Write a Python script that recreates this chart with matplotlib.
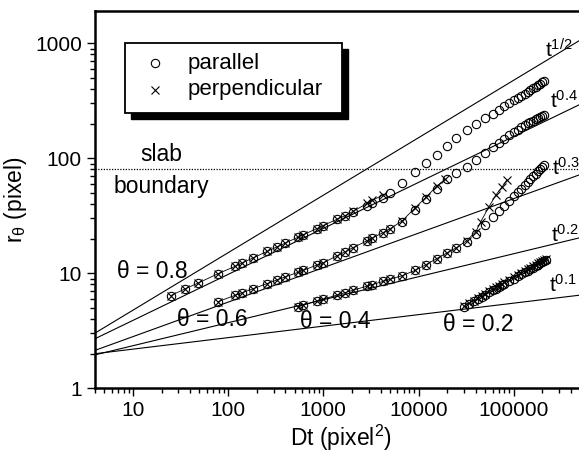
import matplotlib
matplotlib.use('Agg')
import matplotlib.pyplot as plt
import matplotlib.ticker as ticker
from matplotlib.patches import Rectangle
from matplotlib.lines import Line2D
import numpy as np

plt.rcParams['font.family'] = ['Liberation Sans', 'DejaVu Sans']
plt.rcParams['mathtext.fontset'] = 'custom'
plt.rcParams['mathtext.rm'] = 'Liberation Sans'
plt.rcParams['mathtext.it'] = 'Liberation Sans'

# theta = 0.8
dt_08_par = [25, 35, 48, 78, 118, 140, 183, 256, 327, 397, 542, 612, 859, 993, 1390, 1690, 2050,
             2880, 3250, 4240, 5000, 6700, 9200, 12000, 15500, 20000, 25000, 32000, 40000, 50000,
             60000, 70000, 80000, 90000, 100000, 110000, 120000, 130000, 140000, 150000, 160000,
             170000, 180000, 190000, 200000, 210000]
r_08_par = [6.4, 7.3, 8.2, 9.9, 11.5, 12.3, 13.6, 15.5, 17.0, 18.3, 20.6, 21.6, 24.5, 26.0, 29.5,
            31.7, 34.1, 38.8, 40.6, 45.0, 50.1, 60.8, 75.5, 90.4, 107, 128, 149, 176, 198, 222,
            244, 265, 284, 302, 319, 335, 351, 366, 380, 394, 407, 420, 433, 445, 457, 469]
dt_08_perp = [25, 35, 48, 78, 118, 140, 183, 256, 327, 397, 542, 612, 859, 993, 1390, 1690, 2050,
              2880, 3250, 4240]
r_08_perp = [6.4, 7.3, 8.2, 9.9, 11.5, 12.3, 13.6, 15.5, 17.0, 18.3, 20.6, 21.6, 24.5, 26.0, 29.5,
             31.7, 34.5, 40.5, 43.0, 48.0]

# theta = 0.6
dt_06_par = [78, 118, 140, 183, 256, 327, 397, 542, 612, 859, 993, 1390, 1690, 2050, 2880, 3250,
             4240, 5000, 6700, 9200, 12000, 15500, 20000, 25000, 32000, 40000, 50000, 60000, 70000,
             80000, 90000, 100000, 110000, 120000, 130000, 140000, 150000, 160000, 170000, 180000,
             190000, 200000, 210000]
r_06_par = [5.66, 6.43, 6.77, 7.34, 8.13, 8.77, 9.30, 10.2, 10.6, 11.8, 12.3, 14.2, 15.4, 16.7,
            19.2, 20.2, 22.6, 24.3, 27.9, 35.7, 44.0, 53.7, 65.6, 74.6, 84.4, 97.3, 112, 125, 137,
            148, 158, 168, 177, 186, 194, 202, 208, 213, 218, 223, 228, 232, 237]
dt_06_perp = [78, 118, 140, 183, 256, 327, 397, 542, 612, 859, 993, 1390, 1690, 2050, 2880, 3250,
              4240, 5000, 6700, 9200, 12000, 15500, 19000]
r_06_perp = [5.66, 6.43, 6.77, 7.34, 8.13, 8.77, 9.30, 10.2, 10.6, 11.8, 12.3, 14.2, 15.4, 16.7,
             19.2, 20.2, 22.6, 24.3, 28.5, 37.0, 46.0, 57.0, 66.0]

# theta = 0.4
dt_04_par = [542, 612, 859, 993, 1390, 1690, 2050, 2880, 3250, 4240, 5000, 6700, 9200, 12000,
             15500, 20000, 25000, 32000, 40000, 50000, 60000, 70000, 80000, 90000, 100000, 110000,
             120000, 130000, 140000, 150000, 160000, 170000, 180000, 190000, 200000, 210000]
r_04_par = [5.13, 5.28, 5.74, 5.95, 6.47, 6.79, 7.12, 7.74, 7.97, 8.50, 8.86, 9.52, 10.6, 11.9,
            13.4, 15.1, 16.7, 18.8, 21.9, 26.3, 30.6, 34.8, 38.8, 42.8, 46.8, 50.7, 54.6, 58.5,
            62.3, 66.1, 69.7, 73.4, 77.1, 80.8, 84.3, 87.9]
dt_04_perp = [542, 612, 859, 993, 1390, 1690, 2050, 2880, 3250, 4240, 5000, 6700, 9200, 12000,
              15500, 20000, 25000, 32000, 40000, 45000, 55000, 65000, 75000, 85000]
r_04_perp = [5.13, 5.28, 5.74, 5.95, 6.47, 6.79, 7.12, 7.74, 7.97, 8.50, 8.86, 9.52, 10.6, 11.9,
             13.4, 15.1, 16.7, 19.2, 23.0, 28.0, 38.0, 48.0, 56.0, 65.0]

# theta = 0.2
dt_02 = [30000, 34000, 38000, 42000, 46000, 50000, 55000, 60000, 65000, 70000, 75000, 80000, 90000,
         100000, 110000, 120000, 130000, 140000, 150000, 160000, 170000, 180000, 190000, 200000,
         210000, 220000]
r_02_par = [5.13, 5.44, 5.73, 6.01, 6.27, 6.52, 6.81, 7.10, 7.36, 7.62, 7.87, 8.11, 8.57, 9.01,
            9.42, 9.81, 10.2, 10.5, 10.9, 11.2, 11.5, 11.9, 12.2, 12.5, 12.7, 13.0]
r_02_perp = [5.15, 5.5, 5.8, 6.1, 6.4, 6.65, 6.95, 7.3, 7.55, 7.8, 8.1, 8.35, 8.8, 9.3, 9.7,
             10.1, 10.5, 10.8, 11.2, 11.5, 11.9, 12.2, 12.5, 12.8, 13.1, 13.4]

# power laws r = a * Dt^n
exponents = [0.5, 0.4, 0.3, 0.2, 0.1]
prefactors = [1.51, 1.55, 1.41, 1.48, 1.74]
power_labels = [r'$\mathregular{t^{1/2}}$', r'$\mathregular{t^{0.4}}$', r'$\mathregular{t^{0.3}}$',
                r'$\mathregular{t^{0.2}}$', r'$\mathregular{t^{0.1}}$']
label_pos = [(212000, 760), (240000, 273), (255000, 71.6), (245000, 18.8), (235000, 6.9)]

slab_r = 80


def draw_graph():
    fig = plt.figure(figsize=(5.79, 4.57), dpi=100)
    ax = fig.add_axes([95 / 579, 1 - 388.3 / 457, 492.8 / 579, 377.3 / 457])
    ax.set_xscale('log')
    ax.set_yscale('log')
    ax.set_xlim(4, 6e5)
    ax.set_ylim(1, 1910)

    xs = np.array([4, 6e5])
    for n, a in zip(exponents, prefactors):
        ax.plot(xs, a * xs ** n, color='black', lw=0.8)
    for lab, (x, y) in zip(power_labels, label_pos):
        ax.text(x, y, lab, fontsize=15, ha='left', va='baseline')

    ax.axhline(slab_r, color='black', lw=0.9, ls=(0, (1, 1.2)))

    circ = dict(marker='o', ms=6, mfc='none', mec='black', mew=0.8, ls='none')
    cross = dict(marker='x', ms=5.5, color='black', mew=0.8, lw=0.6)
    for dt, r in [(dt_08_par, r_08_par), (dt_06_par, r_06_par), (dt_04_par, r_04_par), (dt_02, r_02_par)]:
        ax.plot(dt, r, **circ)
    for dt, r in [(dt_08_perp, r_08_perp), (dt_06_perp, r_06_perp), (dt_04_perp, r_04_perp), (dt_02, r_02_perp)]:
        ax.plot(dt, r, **cross)

    ax.text(15.9, 10.3, 'θ = 0.8', fontsize=16.5, ha='center', va='center')
    ax.text(69, 3.93, 'θ = 0.6', fontsize=16.5, ha='center', va='center')
    ax.text(1330, 3.79, 'θ = 0.4', fontsize=16.5, ha='center', va='center')
    ax.text(42200, 3.56, 'θ = 0.2', fontsize=16.5, ha='center', va='center')
    ax.text(19.7, 107, 'slab', fontsize=16.5, ha='center', va='center')
    ax.text(19.7, 56.6, 'boundary', fontsize=16.5, ha='center', va='center')

    # axes styling
    ax.spines['right'].set_visible(False)
    for s in ['top', 'left', 'bottom']:
        ax.spines[s].set_linewidth(1.8)
    ax.tick_params(which='both', direction='out', top=False, right=False, labelsize=15, width=1.0)
    ax.tick_params(which='major', length=6)
    ax.tick_params(which='minor', length=3.5)
    fmt = ticker.FuncFormatter(lambda v, p: f'{v:g}')
    ax.xaxis.set_major_formatter(fmt)
    ax.yaxis.set_major_formatter(fmt)
    ax.xaxis.set_minor_formatter(ticker.NullFormatter())
    ax.yaxis.set_minor_formatter(ticker.NullFormatter())
    ax.set_xlabel(r'Dt (pixel$\mathregular{^2}$)', fontsize=16.5, labelpad=2)
    ax.set_ylabel(r'$\mathregular{r_\theta}$ (pixel)', fontsize=16.5)

    # legend with hard shadow
    x0, x1 = 125 / 579, 342 / 579
    y0, y1 = 1 - 113 / 457, 1 - 43 / 457
    sh = 6 / 579
    fig.add_artist(Rectangle((x0 + sh, y0 - 6 / 457), x1 - x0, y1 - y0, transform=fig.transFigure,
                             facecolor='black', edgecolor='black'))
    fig.add_artist(Rectangle((x0, y0), x1 - x0, y1 - y0, transform=fig.transFigure,
                             facecolor='white', edgecolor='black', lw=1.3))
    fig.add_artist(Line2D([155 / 579], [1 - 63 / 457], transform=fig.transFigure, **circ))
    fig.add_artist(Line2D([155 / 579], [1 - 90 / 457], transform=fig.transFigure, marker='x',
                          ms=5.5, color='black', mew=0.8, ls='none'))
    fig.text(188 / 579, 1 - 63 / 457, 'parallel', fontsize=16, va='center')
    fig.text(188 / 579, 1 - 90 / 457, 'perpendicular', fontsize=16, va='center')

    fig.savefig('out.png', dpi=100)


if __name__ == '__main__':
    draw_graph()
